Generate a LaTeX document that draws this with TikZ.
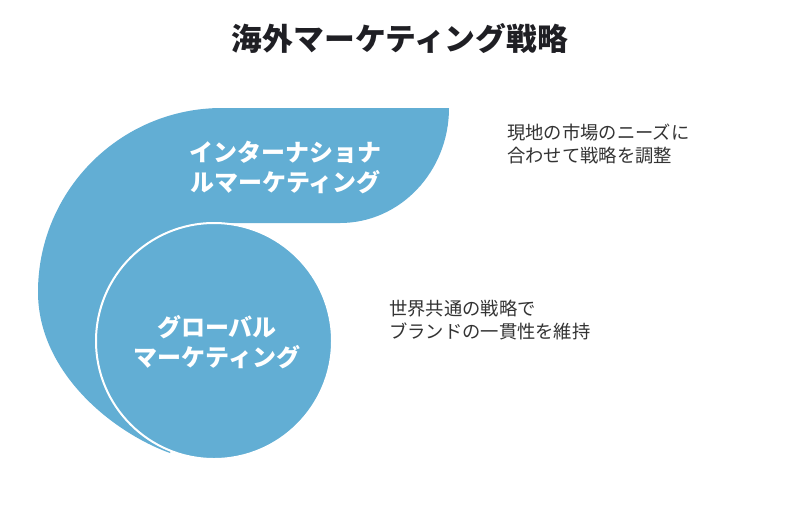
\documentclass[tikz,border=0pt]{standalone}
\usepackage{fontspec}
\newfontfamily\cjk{Noto Sans CJK JP}
\definecolor{swirlblue}{HTML}{62AED4}
\definecolor{txtgray}{HTML}{333333}
\definecolor{titlec}{HTML}{1F1F24}
\tikzset{
  bandtext/.style={text=white,font=\cjk\bfseries\fontsize{24}{30}\selectfont,align=center,inner sep=0pt},
  desctext/.style={text=txtgray,font=\cjk\fontsize{18.3}{22.5}\selectfont,align=left,inner sep=0pt,anchor=west},
  titletext/.style={text=titlec,font=\cjk\bfseries\fontsize{30.8}{36}\selectfont,inner sep=0pt}
}
\begin{document}
\begin{tikzpicture}[x=1pt,y=-1pt]
\useasboundingbox[fill=white] (0,0) rectangle (800,507);
% outer swirl
\fill[swirlblue] (449,108) -- (222,108)
  .. controls (120.4,108) and (38,190.4) .. (38,292)
  .. controls (38,372) and (112,432) .. (170,453)
  -- (214,341) -- (214,223) -- (340,223)
  .. controls (400.2,223) and (449,171.5) .. (449,108) -- cycle;
% inner circle
\node[circle,fill=swirlblue,draw=white,line width=2pt,minimum size=236pt,inner sep=0pt] (globe) at (214,341) {};
\node[titletext] (title) at (400,39) {海外マーケティング戦略};
\node[bandtext] (intl) at (285.5,167) {インターナショナ\\ルマーケティング};
\node[bandtext] (glob) at (217,342.5) {グローバル\\マーケティング};
\node[desctext] (d1) at (507,144) {現地の市場のニーズに\\合わせて戦略を調整};
\node[desctext] (d2) at (389,320) {世界共通の戦略で\\ブランドの一貫性を維持};
\end{tikzpicture}
\end{document}
